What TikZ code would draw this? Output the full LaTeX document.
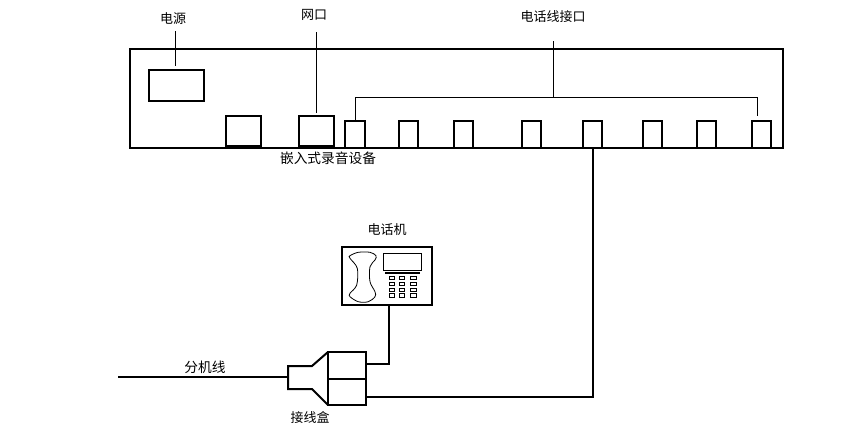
\documentclass[tikz,border=0pt]{standalone}
\usepackage{fontspec}
\newfontfamily\cjkf{Noto Sans CJK SC}
\usetikzlibrary{calc}
\tikzset{
  boxs/.style={draw=black,line width=2pt,inner sep=0pt,outer sep=0pt,fill=white},
  thick line/.style={draw=black,line width=2pt},
  wire/.style={draw=black,line width=2pt},
  leader/.style={draw=black,line width=1pt},
  lbl/.style={font=\cjkf\fontsize{13}{14}\selectfont,inner sep=0pt,text=black},
  keyb/.style={draw=black,line width=1pt,minimum width=5.5pt,minimum height=3.5pt,inner sep=0pt}
}
\newcommand{\rbox}[6][]{\node[boxs,#1,minimum width=#4pt-#2pt,minimum height=#5pt-#3pt] (#6) at ({(#2+#4)/2},{(#3+#5)/2}) {};}
\begin{document}
\begin{tikzpicture}[x=1pt,y=-1pt]
\useasboundingbox[fill=white] (0,0) rectangle (853,429);
% main device
\rbox{130}{49}{783}{148}{device}
\rbox{149}{70}{204}{101}{power}
\rbox{226}{116}{261}{146}{blank}
\rbox{299}{116}{334}{146}{net}
\rbox{345}{121}{365}{148}{pa}
\rbox{399}{121}{418}{148}{pb}
\rbox{454}{121}{473}{148}{pc}
\rbox{522}{121}{541}{148}{pd}
\rbox{583}{121}{602}{148}{pe}
\rbox{643}{121}{662}{148}{pf}
\rbox{697}{121}{716}{148}{pg}
\rbox{752}{121}{771}{148}{ph}
% labels
\node[lbl] (lpower) at (173,19) {电源};
\node[lbl] (lnet) at (314,15) {网口};
\node[lbl] (lline) at (553,17) {电话线接口};
\node[lbl,font=\cjkf\fontsize{13.7}{14}\selectfont] (ldev) at (328,158) {嵌入式录音设备};
\node[lbl] (lphone) at (387,230) {电话机};
\node[lbl,font=\cjkf\fontsize{13.7}{14}\selectfont] (lext) at (205,367) {分机线};
\node[lbl] (lbox) at (310,418) {接线盒};
% leaders
\coordinate (powertop) at (175,31);
\coordinate (powerend) at (175,66);
\coordinate (nettop) at (316,32);
\coordinate (netend) at (316,113);
\coordinate (linetop) at (553,41);
\coordinate (brk) at (553,97);
\coordinate (brkr) at (757,97);
\coordinate (brkre) at (757,116);
\draw[leader] (powertop) -- (powerend);
\draw[leader] (nettop) -- (netend);
\draw[leader] (linetop) -- (brk);
\draw[leader] (pa.north) -- (pa.north |- brk) -- (brkr) -- (brkre);
% phone
\rbox{342}{247}{432}{305}{phone}
\draw[line width=0.8pt,smooth cycle,tension=0.55] plot coordinates {(358.3,252.3) (370,252.3) (376,255.7) (375,260) (370,266.7) (370,281.7) (375,291.7) (375,296.7) (368.3,301.7) (358.3,301.7) (350,296.7) (350,293.3) (356.7,285) (357.3,268.3) (350,258.3) (350,255.7)};
\draw[line width=1pt] (383,253) rectangle (421,270);
\draw[line width=2pt] (385,273) -- (420,273);
\foreach \kx in {392,402,413.5}{\foreach \ky in {278,284,290,295.5}{\node[keyb] at (\kx,\ky) {};}}
% junction box
\draw[thick line,fill=white] (328,352) -- (312,366) -- (288,366) -- (288,389) -- (312,389) -- (328,405);
\rbox{328}{352}{366}{379}{jtop}
\rbox{328}{379}{366}{405}{jbot}
\coordinate (extend) at (118,377);
\coordinate (jin) at (288,377);
\draw[wire] (extend) -- (jin);
\draw[wire] (jtop.east |- 0,364) -| (phone.south -| 389,0);
\draw[wire] (jbot.east |- 0,397) -| (pe.south);
\end{tikzpicture}
\end{document}
